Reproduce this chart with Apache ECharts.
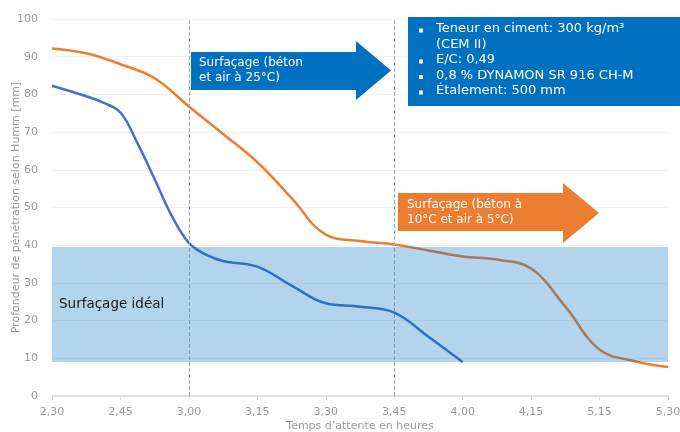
<!DOCTYPE html>
<html>
<head>
<meta charset="utf-8">
<script src="https://cdn.jsdelivr.net/npm/echarts@6/dist/echarts.min.js"></script>
<style>
  html, body { margin: 0; padding: 0; background: #fff; }
  #chart { width: 680px; height: 432px; }
</style>
</head>
<body>
<div id="chart"></div>
<script>
// libellés de l'axe des x (heures)
var tickLabels = ["2,30", "2,45", "3,00", "3,15", "3,30", "3,45", "4,00", "4,15", "5,15", "5,30"];

// positions (en pas de catégorie) et valeurs
var orangeX = [0, 0.5, 1, 1.5, 2, 2.5, 3, 3.5, 4, 4.5, 5, 5.5, 6, 6.5, 7, 7.5, 8, 8.5, 9];
var orangeY = [92.2, 90.9, 88, 84.3, 76.8, 69.5, 62, 52.5, 42.8, 41.1, 40.2, 38.6, 37, 36.2, 33.8, 23.7, 12.3, 9.3, 7.7];

var blueX = [0, 0.5, 0.75, 1, 1.25, 1.5, 1.75, 2, 2.25, 2.5, 3, 3.5, 4, 4.5, 5, 5.5, 6];
var blueY = [82.3, 79.5, 77.8, 75.2, 67, 57.5, 47.8, 40.6, 37.5, 35.8, 34.3, 29.3, 24.6, 23.7, 22.1, 15.7, 9];

// zone de surfaçage idéal
var bandLow = 9;
var bandHigh = 39.5;

// lignes verticales (3,00 et 3,45)
var vLines = [2, 5];

var infoLines = [
  "Teneur en ciment: 300 kg/m³",
  "(CEM II)",
  "E/C: 0,49",
  "0,8 % DYNAMON SR 916 CH-M",
  "Étalement: 500 mm"
];
var infoBullets = [true, false, true, true, true];

function pairs(xs, ys) {
  var out = [];
  xs.forEach(function (x, i) { out.push([x, ys[i]]); });
  return out;
}

var FONT = "DejaVu Sans";
var chart = echarts.init(document.getElementById("chart"));

var graphics = [];
// flèche bleue
graphics.push({
  type: "polygon", z: 100,
  shape: { points: [[191, 52], [356, 52], [356, 41], [391, 70.5], [356, 100], [356, 90], [191, 90]] },
  style: { fill: "#0070C0" }
});
graphics.push({
  type: "text", z: 101, left: 199, top: 55,
  style: { text: "Surfaçage (béton\net air à 25°C)", fill: "#fff", font: "12px " + FONT, lineHeight: 15 }
});
// flèche orange
graphics.push({
  type: "polygon", z: 100,
  shape: { points: [[398, 193], [563, 193], [563, 183], [599, 213], [563, 243], [563, 231], [398, 231]] },
  style: { fill: "#ED7D31" }
});
graphics.push({
  type: "text", z: 101, left: 407, top: 197,
  style: { text: "Surfaçage (béton à\n10°C et air à 5°C)", fill: "#fff", font: "12px " + FONT, lineHeight: 15 }
});
// encadré d'informations
graphics.push({
  type: "rect", z: 100,
  shape: { x: 408, y: 17, width: 272, height: 89 },
  style: { fill: "#0070C0" }
});
infoLines.forEach(function (t, i) {
  var y = 22.5 + i * 15.5;
  if (infoBullets[i]) {
    graphics.push({
      type: "rect", z: 101,
      shape: { x: 419, y: y + 6, width: 4, height: 4 },
      style: { fill: "#fff" }
    });
  }
  graphics.push({
    type: "text", z: 101, left: 436, top: y,
    style: { text: t, fill: "#fff", font: "13px " + FONT }
  });
});

chart.setOption({
  animation: false,
  backgroundColor: "#fff",
  grid: { left: 52, right: 12, top: 19, bottom: 36, outerBoundsMode: "none", containLabel: false },
  xAxis: {
    type: "value",
    min: 0,
    max: 9,
    interval: 1,
    name: "Temps d’attente en heures",
    nameLocation: "middle",
    nameGap: 25,
    nameMoveOverlap: false,
    nameTextStyle: { color: "#9a9a9a", fontSize: 11, fontFamily: FONT },
    axisLine: { show: true, lineStyle: { color: "#d9d9d9", width: 1.5 } },
    axisTick: { show: true, length: 4, lineStyle: { color: "#d9d9d9" } },
    splitLine: { show: false },
    axisLabel: {
      color: "#9a9a9a", fontSize: 11, fontFamily: FONT, margin: 11,
      formatter: function (v) { return tickLabels[Math.round(v)]; }
    }
  },
  yAxis: {
    type: "value",
    min: 0,
    max: 100,
    interval: 10,
    name: "Profondeur de pénétration selon Humm [mm]",
    nameLocation: "middle",
    nameGap: 30,
    nameMoveOverlap: false,
    nameTextStyle: { color: "#9a9a9a", fontSize: 11, fontFamily: FONT },
    axisLine: { show: false },
    axisTick: { show: false },
    splitLine: { lineStyle: { color: "#f0f0f0" } },
    axisLabel: { color: "#9a9a9a", fontSize: 11, fontFamily: FONT, margin: 14 }
  },
  series: [
    {
      name: "béton et air à 25°C",
      type: "line",
      smooth: 0.4,
      symbol: "none",
      z: 2,
      lineStyle: { color: "#4472C4", width: 2.5 },
      data: pairs(blueX, blueY),
      markLine: {
        silent: true,
        symbol: "none",
        label: { show: false },
        lineStyle: { color: "#a6a6a6", type: "dashed", width: 1 },
        data: vLines.map(function (v) { return { xAxis: v }; })
      }
    },
    {
      name: "béton à 10°C et air à 5°C",
      type: "line",
      smooth: 0.4,
      symbol: "none",
      z: 2,
      lineStyle: { color: "#ED7D31", width: 2.5 },
      data: pairs(orangeX, orangeY)
    },
    {
      name: "zone",
      type: "line",
      zlevel: 1,
      z: 10,
      data: [],
      markArea: {
        silent: true,
        z: 10,
        itemStyle: { color: "rgba(0,112,192,0.3)" },
        label: {
          show: true,
          position: "insideLeft",
          distance: 7,
          color: "#1a1a1a",
          fontSize: 13.5,
          fontFamily: FONT
        },
        data: [[
          { name: "Surfaçage idéal", xAxis: 0, yAxis: bandLow },
          { xAxis: 9, yAxis: bandHigh }
        ]]
      }
    }
  ],
  graphic: graphics
});
</script>
</body>
</html>
